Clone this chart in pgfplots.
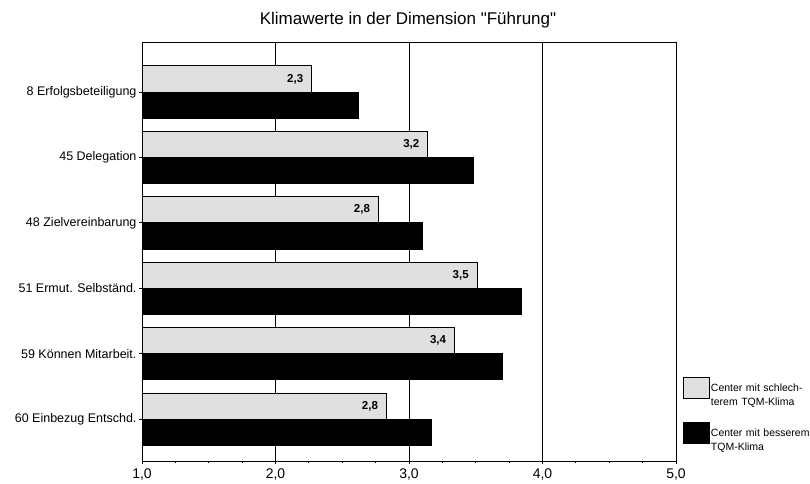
\documentclass[border=0pt]{standalone}
\usepackage{pgfplots}
\pgfplotsset{compat=1.18}
\usepackage{pgfplotstable}
\usepackage{fontspec}
\setmainfont{Liberation Sans}
\newfontfamily\titlefont{Liberation Sans}[Ligatures=TeXOff]

\pgfplotstableread{
idx val lab
0 2.27 2,3
1 3.14 3,2
2 2.77 2,8
3 3.51 3,5
4 3.34 3,4
5 2.83 2,8
}\lighttab

\pgfplotstableread{
idx val
0 2.62
1 3.48
2 3.10
3 3.84
4 3.70
5 3.17
}\darktab

\begin{document}
\begin{tikzpicture}
\begin{axis}[
  at={(142pt,22pt)}, anchor=south west,
  scale only axis, width=534pt, height=419pt,
  xbar, bar width=0.4, bar shift=0pt,
  xmin=1, xmax=5,
  ymin=-0.765, ymax=5.64,
  y dir=reverse,
  xtick={1,2,3,4,5},
  minor x tick num=3,
  ytick={0,1,2,3,4,5},
  yticklabels={8 Erfolgsbeteiligung,45 Delegation,48 Zielvereinbarung,51 Ermut. Selbständ.,59 Können Mitarbeit.,60 Einbezug Entschd.},
  xtick pos=bottom, ytick pos=left,
  tick align=outside,
  major tick length=3pt, minor tick length=2pt,
  tick style={black, line width=0.9pt},
  axis line style={black, line width=1pt},
  xmajorgrids,
  major grid style={black, line width=0.9pt},
  /pgf/number format/.cd, use comma, fixed, fixed zerofill, precision=1, assume math mode=true,
  /pgfplots/.cd,
  xticklabel style={font=\fontsize{14}{15}\selectfont, yshift=-1pt},
  yticklabel style={font=\fontsize{12.5}{14}\selectfont, xshift=1pt},
  legend style={at={(1.013,0.2)}, anchor=north west, draw=none, fill=none,
    inner sep=0pt, row sep=23pt,
    nodes={inner sep=1pt, text width=100pt, align=left, font=\fontsize{10.5}{14.5}\selectfont}},
  legend cell align=left,
  legend image code/.code={\draw[#1, line width=0.8pt] (0pt,-10.5pt) rectangle (26pt,10.5pt);},
]
\addplot[draw=black, line width=0.8pt, fill=black!12, bar shift=0pt,
  nodes near coords, point meta=explicit symbolic,
  every node near coord/.append style={anchor=east, xshift=-7pt, font=\bfseries\fontsize{11.5}{13}\selectfont, inner sep=1pt}]
  table[x=val, y expr=\thisrow{idx}-0.2, meta=lab] {\lighttab};
\addlegendentry{Center mit schlech-\\terem TQM-Klima}
\addplot[draw=black, line width=0.8pt, fill=black, bar shift=0pt]
  table[x=val, y expr=\thisrow{idx}+0.2] {\darktab};
\addlegendentry{Center mit besserem\\TQM-Klima}
\end{axis}
\node[anchor=base, font=\titlefont\fontsize{17}{20}\selectfont] at (408pt,458pt) {Klimawerte in der Dimension "Führung"};
\pgfresetboundingbox
\useasboundingbox (0,0) rectangle (810pt,483pt);
\end{tikzpicture}
\end{document}
